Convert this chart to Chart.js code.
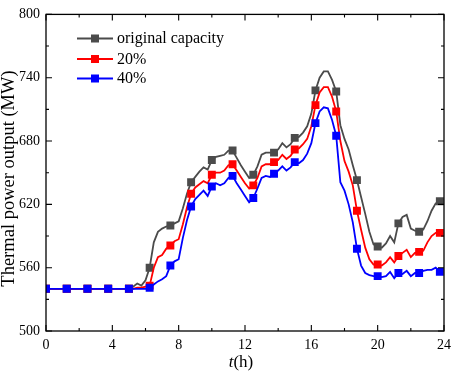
<!DOCTYPE html>
<html><head><meta charset="utf-8">
<script src="https://cdn.jsdelivr.net/npm/chart.js@4/dist/chart.umd.min.js"></script>
<style>html,body{margin:0;padding:0;background:#fff}#wrap{width:457px;height:373px;position:relative}</style>
</head><body><div id="wrap"><canvas id="c" width="457" height="373"></canvas></div>
<script>
const hours = [0,0.25,0.5,0.75,1,1.25,1.5,1.75,2,2.25,2.5,2.75,3,3.25,3.5,3.75,4,4.25,4.5,4.75,
5,5.25,5.5,5.75,6,6.25,6.5,6.75,7,7.25,7.5,7.75,8,8.25,8.5,8.75,9,9.25,9.5,9.75,
10,10.25,10.5,10.75,11,11.25,11.5,11.75,12,12.25,12.5,12.75,13,13.25,13.5,13.75,14,14.25,14.5,14.75,
15,15.25,15.5,15.75,16,16.25,16.5,16.75,17,17.25,17.5,17.75,18,18.25,18.5,18.75,19,19.25,19.5,19.75,
20,20.25,20.5,20.75,21,21.25,21.5,21.75,22,22.25,22.5,22.75,23,23.25,23.5,23.75];
const seriesNames = ['original capacity', '20%', '40%'];
const original = [540,540,540,540,540,540,540,540,540,540,540,540,540,540,540,540,540,540,540,540,
540,542,545,543,548,560,584,594,597,599,600,602,604,616,630,641,646,651,655,653,
662,665,666,667,671,671,664,657,651,645,648,656,667,669,669,669,672,678,674,677,
683,684,688,694,706,728,740,746,746,738,727,695,682,672,657,643,627,611,594,582,
580,579,583,590,584,602,608,610,597,595,594,596,604,614,621,623];
const cap20 = [540,540,540,540,540,540,540,540,540,540,540,540,540,540,540,540,540,540,540,540,
540,540,541,541,542,543,560,570,572,578,581,585,587,601,617,630,636,639,642,640,
648,650,650,652,657,658,652,646,640,635,638,645,656,658,658,660,662,667,663,666,
672,673,677,682,694,714,726,731,731,722,708,680,661,651,638,614,596,579,568,563,
563,562,565,570,565,571,574,577,570,574,575,576,584,590,593,593];
const cap40 = [540,540,540,540,540,540,540,540,540,540,540,540,540,540,540,540,540,540,540,540,
540,540,540,540,540,541,544,547,549,552,562,566,568,588,605,618,625,629,633,628,
637,640,638,640,645,647,640,634,628,622,626,635,645,647,646,649,652,656,652,655,
660,659,662,668,678,697,708,712,711,700,685,641,633,620,603,578,562,555,553,552,
552,551,552,556,550,555,554,557,552,555,555,557,558,558,560,556];
const xTicks = [0, 4, 8, 12, 16, 20, 24];
const yTicks = [500, 560, 620, 680, 740, 800];
const colors = ['#4b4b4b', '#ff0000', '#0000ff'];

const FONT = "'Liberation Serif', 'Times New Roman', serif";
const toXY = arr => arr.map((v, i) => ({x: hours[i], y: v}));
const markerRadius = ctx => (ctx.dataIndex % 5 === 0 ? 5.6 : 0);

function mkDs(i, arr, order) {
  return {
    label: seriesNames[i], data: toXY(arr), borderColor: colors[i], backgroundColor: colors[i],
    borderWidth: 1.8, tension: 0, pointStyle: 'rect', pointRadius: markerRadius,
    pointHoverRadius: markerRadius, pointBorderWidth: 0, order: order
  };
}

const framePlugin = {
  id: 'frame',
  afterDraw(chart) {
    const ctx = chart.ctx, a = chart.chartArea;
    const xs = chart.scales.x, ys = chart.scales.y;
    ctx.save();
    ctx.strokeStyle = '#000'; ctx.lineWidth = 1.3;
    ctx.strokeRect(a.left, a.top, a.right - a.left, a.bottom - a.top);
    ctx.lineWidth = 1.1;
    ctx.beginPath();
    const xt = xs.ticks.map(t => t.value);
    for (let k = 0; k < xt.length; k++) {
      const px = xs.getPixelForValue(xt[k]);
      ctx.moveTo(px, a.bottom); ctx.lineTo(px, a.bottom - 6);
      ctx.moveTo(px, a.top); ctx.lineTo(px, a.top + 6);
      if (k < xt.length - 1) {
        const mx = xs.getPixelForValue((xt[k] + xt[k + 1]) / 2);
        ctx.moveTo(mx, a.bottom); ctx.lineTo(mx, a.bottom - 3);
        ctx.moveTo(mx, a.top); ctx.lineTo(mx, a.top + 3);
      }
    }
    const yt = ys.ticks.map(t => t.value);
    for (let k = 0; k < yt.length; k++) {
      const py = ys.getPixelForValue(yt[k]);
      ctx.moveTo(a.left, py); ctx.lineTo(a.left + 6, py);
      ctx.moveTo(a.right, py); ctx.lineTo(a.right - 6, py);
      if (k < yt.length - 1) {
        const my = ys.getPixelForValue((yt[k] + yt[k + 1]) / 2);
        ctx.moveTo(a.left, my); ctx.lineTo(a.left + 3, my);
        ctx.moveTo(a.right, my); ctx.lineTo(a.right - 3, my);
      }
    }
    ctx.stroke();

    // axis titles
    ctx.fillStyle = '#000';
    ctx.textBaseline = 'middle';
    // x title: italic t + (h)
    ctx.font = 'italic 17px ' + FONT;
    const wt = ctx.measureText('t').width;
    ctx.font = '17px ' + FONT;
    const wh = ctx.measureText('(h)').width;
    const cx = (a.left + a.right) / 2 - 4;
    const x0 = cx - (wt + wh) / 2;
    ctx.textAlign = 'left';
    ctx.font = 'italic 17px ' + FONT;
    ctx.fillText('t', x0, 363);
    ctx.font = '17px ' + FONT;
    ctx.fillText('(h)', x0 + wt, 363);
    // y title
    ctx.save();
    ctx.translate(9, 178.5);
    ctx.rotate(-Math.PI / 2);
    ctx.textAlign = 'center';
    ctx.font = '18.5px ' + FONT;
    ctx.fillText('Thermal power output (MW)', 0, 0);
    ctx.restore();

    // legend
    const rows = [38.5, 59, 78.5];
    ctx.font = '16px ' + FONT;
    ctx.textAlign = 'left';
    chart.data.datasets.forEach((ds, i) => {
      const y = rows[i];
      ctx.strokeStyle = ds.borderColor; ctx.lineWidth = 1.8;
      ctx.beginPath(); ctx.moveTo(77, y); ctx.lineTo(113, y); ctx.stroke();
      ctx.fillStyle = ds.backgroundColor;
      ctx.fillRect(95 - 4, y - 4, 8, 8);
      ctx.fillStyle = '#000';
      ctx.fillText(ds.label, 117, y + 0.5);
    });
    ctx.restore();
  }
};

new Chart(document.getElementById('c'), {
  type: 'line',
  data: { datasets: [mkDs(0, original, 2), mkDs(1, cap20, 1), mkDs(2, cap40, 0)] },
  options: {
    responsive: false, devicePixelRatio: 1, animation: false,
    layout: { padding: { top: 5, right: 6, left: 0, bottom: 0 } },
    plugins: { legend: { display: false }, tooltip: { enabled: false } },
    scales: {
      x: {
        type: 'linear', min: 0, max: 24,
        afterBuildTicks: s => { s.ticks = xTicks.map(v => ({ value: v })); },
        afterFit: s => { s.height = 42; },
        grid: { display: false, drawTicks: false },
        border: { display: false },
        ticks: { padding: 6, color: '#000', font: { family: FONT, size: 14 }, maxRotation: 0 }
      },
      y: {
        type: 'linear', min: 500, max: 800,
        afterBuildTicks: s => { s.ticks = yTicks.map(v => ({ value: v })); },
        afterFit: s => { s.width = 46; },
        grid: { display: false, drawTicks: false },
        border: { display: false },
        ticks: { padding: 6, color: '#000', font: { family: FONT, size: 14 } }
      }
    }
  },
  plugins: [framePlugin]
});
</script>
</body></html>
